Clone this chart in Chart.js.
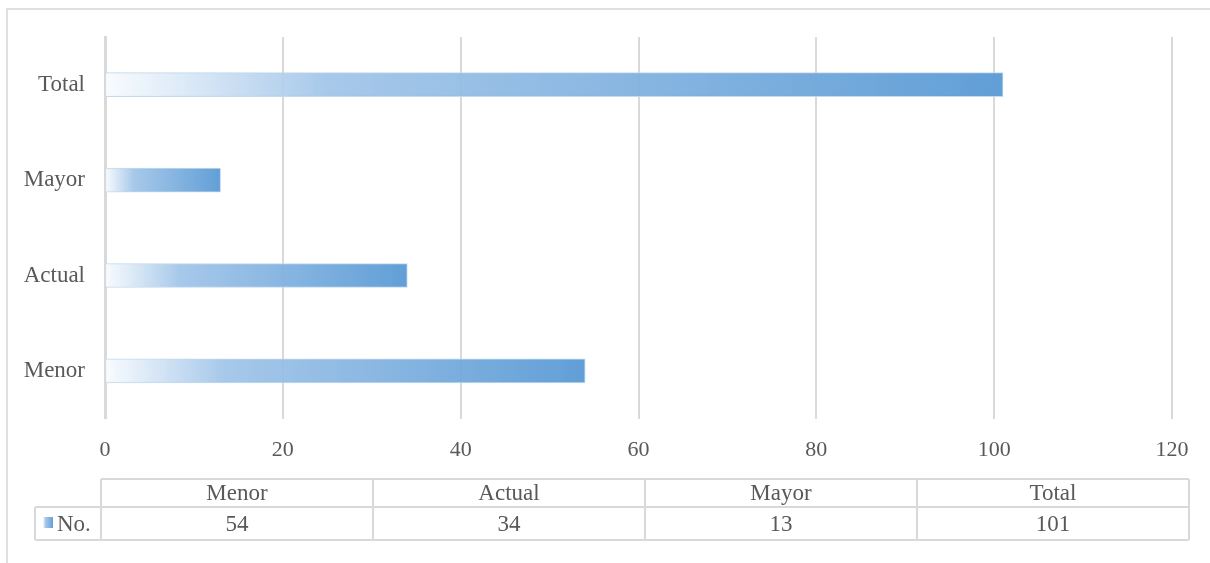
<!DOCTYPE html>
<html>
<head>
<meta charset="utf-8">
<script src="https://cdn.jsdelivr.net/npm/chart.js@4"></script>
<style>
  html, body { margin: 0; padding: 0; background: #fff; }
  #wrap { width: 1210px; height: 563px; position: relative; }
</style>
</head>
<body>
<div id="wrap"><canvas id="chart" width="1210" height="563"></canvas></div>
<script>
// categories shown top to bottom on the chart
const categories = ['Total', 'Mayor', 'Actual', 'Menor'];
const values = [101, 13, 34, 54];
// data table columns (left to right)
const tableCategories = ['Menor', 'Actual', 'Mayor', 'Total'];
const tableValues = [54, 34, 13, 101];
const seriesName = 'No.';
const xTicks = { min: 0, max: 120, step: 20 };

const FONT = '"Liberation Serif", "Times New Roman", serif';
const TEXT = '#595959';
const GRID = '#d9d9d9';

function barGradient(ctx, x0, x1) {
  const g = ctx.createLinearGradient(x0, 0, x1, 0);
  g.addColorStop(0, 'rgba(248,251,254,0.9)');
  g.addColorStop(0.25, 'rgba(160,196,232,0.93)');
  g.addColorStop(1, 'rgba(91,155,213,0.96)');
  return g;
}

// chart frame + data table underneath the plot
const tablePlugin = {
  id: 'dataTable',
  afterDraw(chart) {
    const { ctx, chartArea } = chart;
    ctx.save();
    // outer frame
    ctx.strokeStyle = '#e0e0e0';
    ctx.lineWidth = 2;
    ctx.beginPath();
    ctx.moveTo(7, 600);
    ctx.lineTo(7, 9);
    ctx.lineTo(1220, 9);
    ctx.stroke();

    const left = chartArea.left - 4;
    const right = chartArea.right + 17;
    const top = 479, mid = 507, bottom = 540;
    const legendLeft = 35;
    const colW = (right - left) / tableCategories.length;

    ctx.strokeStyle = '#d9d9d9';
    ctx.lineWidth = 2;
    ctx.beginPath();
    ctx.moveTo(left, top); ctx.lineTo(right, top);
    ctx.moveTo(legendLeft, mid); ctx.lineTo(right, mid);
    ctx.moveTo(legendLeft, bottom); ctx.lineTo(right, bottom);
    ctx.moveTo(legendLeft, mid); ctx.lineTo(legendLeft, bottom);
    for (let i = 0; i <= tableCategories.length; i++) {
      const x = left + i * colW;
      ctx.moveTo(x, top); ctx.lineTo(x, bottom);
    }
    ctx.stroke();

    ctx.fillStyle = TEXT;
    ctx.font = '23px ' + FONT;
    ctx.textAlign = 'center';
    ctx.textBaseline = 'middle';
    tableCategories.forEach((c, i) => {
      const cx = left + (i + 0.5) * colW;
      ctx.fillText(c, cx, (top + mid) / 2 + 1);
      ctx.fillText(String(tableValues[i]), cx, (mid + bottom) / 2 + 1);
    });

    // legend key
    ctx.fillStyle = barGradient(ctx, 43, 53);
    ctx.fillRect(43, 517, 10, 11);
    ctx.fillStyle = TEXT;
    ctx.textAlign = 'left';
    ctx.fillText(seriesName, 57, (mid + bottom) / 2 + 1);
    ctx.restore();
  }
};

new Chart(document.getElementById('chart'), {
  type: 'bar',
  data: {
    labels: categories,
    datasets: [{
      label: seriesName,
      data: values,
      backgroundColor(context) {
        const chart = context.chart;
        if (!chart.chartArea || context.type !== 'data') return '#5b9bd5';
        const xs = chart.scales.x;
        const x0 = xs.getPixelForValue(0);
        const x1 = xs.getPixelForValue(context.raw);
        return barGradient(chart.ctx, x0, x1);
      },
      borderColor: 'rgba(189,215,238,0.9)',
      borderWidth: 1,
      barThickness: 24
    }]
  },
  options: {
    indexAxis: 'y',
    responsive: false,
    animation: false,
    layout: { padding: { top: 37, right: 38, bottom: 82, left: 0 } },
    plugins: {
      legend: { display: false },
      tooltip: { enabled: false }
    },
    scales: {
      x: {
        min: xTicks.min,
        max: xTicks.max,
        ticks: {
          stepSize: xTicks.step,
          color: TEXT,
          font: { family: FONT, size: 22 },
          padding: 18
        },
        grid: {
          color: GRID,
          lineWidth: 2,
          drawTicks: false
        },
        border: { display: false }
      },
      y: {
        afterFit(scale) { scale.width = 105; },
        ticks: {
          color: TEXT,
          font: { family: FONT, size: 23 },
          padding: 20
        },
        grid: { display: false, drawTicks: false },
        border: { display: true, color: GRID, width: 3 }
      }
    }
  },
  plugins: [tablePlugin]
});
</script>
</body>
</html>
